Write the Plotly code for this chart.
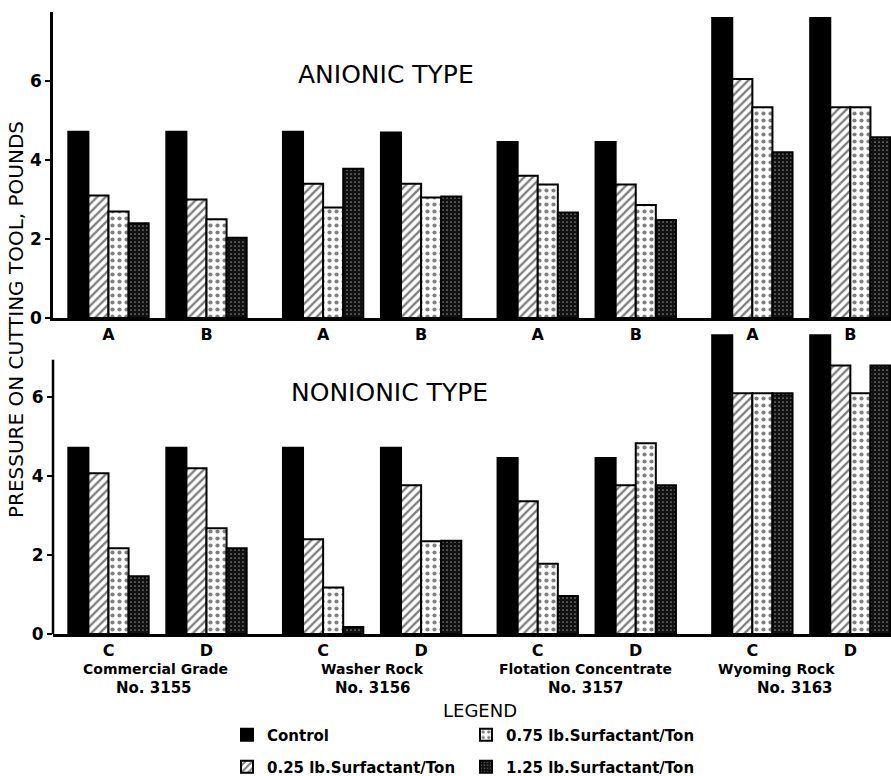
import plotly.graph_objects as go

# ---------------- data ----------------
mineral_names = ["Commercial Grade", "Washer Rock", "Flotation Concentrate", "Wyoming Rock"]
mineral_numbers = ["No. 3155", "No. 3156", "No. 3157", "No. 3163"]
anionic_labels = ["A", "B", "A", "B", "A", "B", "A", "B"]
nonionic_labels = ["C", "D", "C", "D", "C", "D", "C", "D"]
series_names = ["Control", "0.25 lb.Surfactant/Ton", "0.75 lb.Surfactant/Ton", "1.25 lb.Surfactant/Ton"]

anionic_control = [4.72, 4.72, 4.72, 4.70, 4.46, 4.46, 7.60, 7.60]
anionic_025 = [3.10, 3.00, 3.40, 3.40, 3.60, 3.38, 6.05, 5.34]
anionic_075 = [2.70, 2.50, 2.80, 3.05, 3.38, 2.86, 5.34, 5.34]
anionic_125 = [2.40, 2.03, 3.78, 3.08, 2.67, 2.48, 4.20, 4.58]

nonionic_control = [4.72, 4.72, 4.72, 4.72, 4.46, 4.46, 7.57, 7.57]
nonionic_025 = [4.07, 4.20, 2.40, 3.77, 3.36, 3.77, 6.10, 6.80]
nonionic_075 = [2.17, 2.68, 1.18, 2.35, 1.78, 4.83, 6.10, 6.10]
nonionic_125 = [1.46, 2.17, 0.18, 2.36, 0.96, 3.77, 6.10, 6.80]

# ---------------- layout helpers ----------------
W, H = 891, 776
ML = 53
PW = W - ML
pair_gap = 0.19
group_pos = [i + pair_gap * (i // 2) for i in range(8)]
label_x = [0.48, 2.69, 4.87, 6.82]
number_x = [0.46, 2.70, 4.87, 7.00]

FONT = "DejaVu Sans"
styles = [
    dict(color="black", pattern=dict(shape="")),
    dict(color="white", pattern=dict(shape="/", fgcolor="black", bgcolor="white", size=6, solidity=0.4)),
    dict(color="white", pattern=dict(shape=".", fgcolor="black", bgcolor="white", size=7, solidity=0.28)),
    dict(color="#111111", pattern=dict(shape=".", fgcolor="white", bgcolor="#111111", size=4, solidity=0.14)),
]

def py(px):
    return 1 - px / H

def pxx(px):
    return (px - ML) / PW

fig = go.Figure()
top_series = [anionic_control, anionic_025, anionic_075, anionic_125]
bot_series = [nonionic_control, nonionic_025, nonionic_075, nonionic_125]
legend_ids = ["legend", "legend3", "legend2", "legend4"]

for k in range(4):
    fig.add_trace(go.Bar(
        x=group_pos, y=top_series[k], name=series_names[k],
        marker=dict(color=styles[k]["color"], pattern=styles[k]["pattern"],
                    line=dict(color="black", width=2)),
        xaxis="x", yaxis="y", showlegend=True, legend=legend_ids[k],
    ))
for k in range(4):
    fig.add_trace(go.Bar(
        x=group_pos, y=bot_series[k], name=series_names[k],
        marker=dict(color=styles[k]["color"], pattern=styles[k]["pattern"],
                    line=dict(color="black", width=2)),
        xaxis="x2", yaxis="y2", showlegend=False,
    ))

xr = [(ML - 108.5) / 98, (W - 108.5) / 98]
tickfont = dict(family=FONT, size=16, color="black", weight="bold")
yfont = dict(family=FONT, size=17, color="black", weight="bold")

common_x = dict(range=xr, showgrid=False, zeroline=False, showline=True, linewidth=3,
                linecolor="black", ticks="", tickvals=group_pos, tickfont=tickfont)
common_y = dict(showgrid=False, zeroline=False, ticks="outside", ticklen=5, tickwidth=2,
                tickcolor="black", tickvals=[0, 2, 4, 6], tickfont=yfont)

fig.update_layout(
    width=W, height=H,
    margin=dict(l=ML, r=0, t=0, b=0, autoexpand=False),
    paper_bgcolor="white", plot_bgcolor="white",
    barmode="group", bargap=0.18, bargroupgap=0,
    xaxis=dict(**common_x, ticktext=anionic_labels, anchor="y", domain=[0, 1]),
    yaxis=dict(**common_y, range=[0, 7.75], domain=[py(318), py(12)], anchor="x",
               showline=True, linewidth=2.5, linecolor="black"),
    xaxis2=dict(**common_x, ticktext=nonionic_labels, anchor="y2", domain=[0, 1]),
    yaxis2=dict(**common_y, range=[0, 7.65], domain=[py(634), py(332)], anchor="x2",
                showline=False),
    font=dict(family=FONT, color="black"),
)

# y axis line of lower panel (stops below the tallest bars)
fig.add_shape(type="line", xref="x2 domain", yref="y2", x0=0, x1=0, y0=0, y1=6.95,
              line=dict(color="black", width=2.5))

# legends (one per entry to place them in a 2x2 grid)
legend_pos = {"legend": (227, 735), "legend2": (466, 735), "legend3": (227, 767), "legend4": (466, 767)}
legfont = dict(family=FONT, size=15, color="black", weight="bold")
for lid, (lx, ly) in legend_pos.items():
    fig.update_layout({lid: dict(x=pxx(lx), y=py(ly), xanchor="left", yanchor="middle",
                                 xref="paper", yref="paper", font=legfont,
                                 bgcolor="rgba(0,0,0,0)", borderwidth=0)})

def note(text, x, y, size, xref="paper", bold=False, angle=0):
    f = dict(family=FONT, size=size, color="black")
    if bold:
        f["weight"] = "bold"
    return dict(text=text, x=x, y=y, xref=xref, yref="paper", showarrow=False,
                xanchor="center", yanchor="middle", textangle=angle, font=f)

ann = [
    note("PRESSURE ON CUTTING TOOL, POUNDS", pxx(16), py(320), 20, angle=-90),
    note("ANIONIC TYPE", pxx(386), py(74), 25),
    note("NONIONIC TYPE", pxx(389), py(392), 25),
    note("LEGEND", pxx(480), py(710), 18),
]
for name, num, lx, nx in zip(mineral_names, mineral_numbers, label_x, number_x):
    ann.append(note(name, lx, py(669), 14, xref="x2", bold=True))
    ann.append(note(num, nx, py(688), 15, xref="x2", bold=True))
fig.update_layout(annotations=ann)

fig.write_html("out.html", config={"displayModeBar": False},
               post_script="document.body.style.margin='0px';")
